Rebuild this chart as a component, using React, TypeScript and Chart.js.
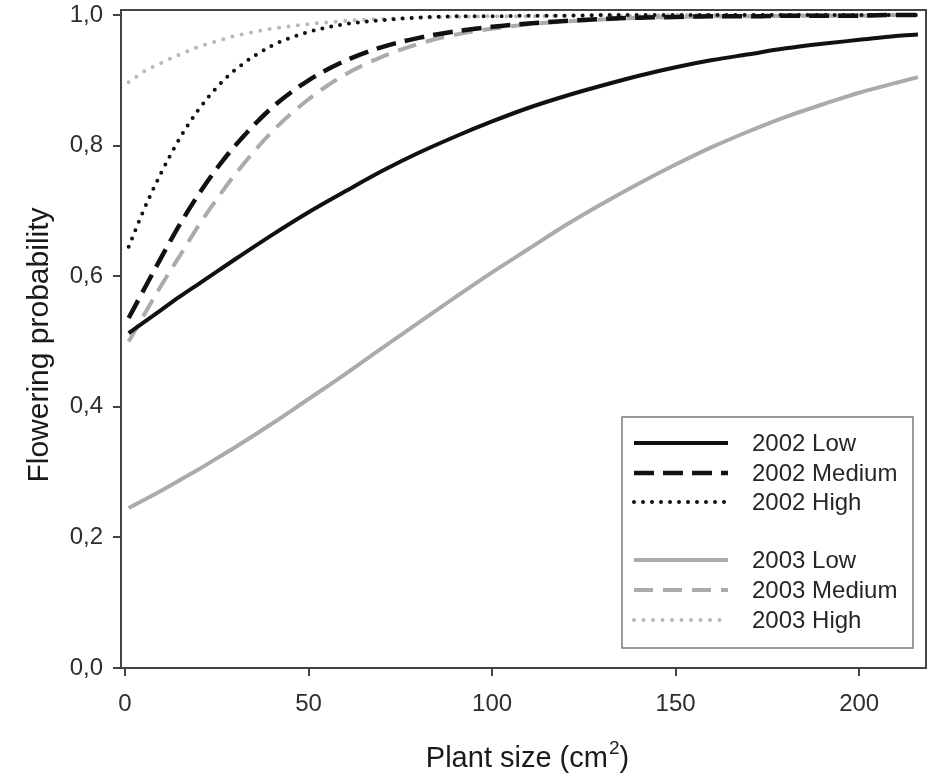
import React, { useEffect, useRef } from "react";
import { Chart, registerables } from "chart.js";

Chart.register(...registerables);

const X_VALUES = [1, 5, 10, 15, 20, 25, 30, 40, 50, 60, 70, 80, 90, 100, 110, 120, 130, 140, 150, 160, 170, 180, 190, 200, 210, 216];

const LOW_2002 = [0.513, 0.529, 0.549, 0.569, 0.588, 0.607, 0.626, 0.663, 0.698, 0.730, 0.761, 0.789, 0.814, 0.837, 0.858, 0.876, 0.892, 0.907, 0.920, 0.931, 0.940, 0.949, 0.956, 0.962, 0.968, 0.970];
const MEDIUM_2002 = [0.536, 0.578, 0.630, 0.680, 0.725, 0.765, 0.800, 0.858, 0.900, 0.930, 0.951, 0.965, 0.975, 0.982, 0.987, 0.991, 0.994, 0.996, 0.997, 0.998, 0.998, 0.999, 0.999, 0.999, 1.0, 1.0];
const HIGH_2002 = [0.645, 0.700, 0.760, 0.812, 0.855, 0.889, 0.916, 0.953, 0.974, 0.986, 0.992, 0.996, 0.998, 0.998, 0.999, 0.999, 1.0, 1.0, 1.0, 1.0, 1.0, 1.0, 1.0, 1.0, 1.0, 1.0];
const LOW_2003 = [0.245, 0.257, 0.272, 0.288, 0.304, 0.321, 0.338, 0.374, 0.412, 0.450, 0.490, 0.529, 0.568, 0.606, 0.642, 0.678, 0.711, 0.742, 0.771, 0.798, 0.822, 0.844, 0.863, 0.881, 0.896, 0.905];
const MEDIUM_2003 = [0.500, 0.539, 0.587, 0.632, 0.677, 0.718, 0.756, 0.821, 0.871, 0.909, 0.936, 0.956, 0.970, 0.979, 0.986, 0.990, 0.993, 0.996, 0.997, 0.998, 0.998, 0.999, 0.999, 0.999, 1.0, 1.0];
const HIGH_2003 = [0.897, 0.913, 0.927, 0.940, 0.951, 0.960, 0.968, 0.979, 0.986, 0.991, 0.994, 0.996, 0.997, 0.998, 0.998, 0.999, 0.999, 0.999, 1.0, 1.0, 1.0, 1.0, 1.0, 1.0, 1.0, 1.0];

const SERIES_LABELS = ["2002 Low", "2002 Medium", "2002 High", "2003 Low", "2003 Medium", "2003 High"];
const X_TICKS = [0, 50, 100, 150, 200];
const Y_TICKS = [0, 0.2, 0.4, 0.6, 0.8, 1.0];
const X_TITLE = "Plant size (cm";
const X_TITLE_SUP = "2";
const Y_TITLE = "Flowering probability";

const FONT = "'Liberation Sans', Arial, sans-serif";
const BLACK = "#111111";
const GRAY = "#ababab";
const GRAY_LIGHT = "#b8b8b8";

const toPoints = (ys: number[]) => X_VALUES.map((x, i) => ({ x, y: ys[i] }));

const overlayPlugin = {
  id: "overlay",
  afterDraw(chart: any) {
    const { ctx, chartArea } = chart;
    ctx.save();
    // frame
    ctx.strokeStyle = "#444444";
    ctx.lineWidth = 2;
    ctx.setLineDash([]);
    ctx.strokeRect(chartArea.left, chartArea.top, chartArea.right - chartArea.left, chartArea.bottom - chartArea.top);

    // legend
    const boxL = 622, boxT = 417, boxR = 913, boxB = 648;
    ctx.fillStyle = "#ffffff";
    ctx.fillRect(boxL, boxT, boxR - boxL, boxB - boxT);
    ctx.strokeStyle = "#7a7a7a";
    ctx.lineWidth = 1.5;
    ctx.strokeRect(boxL, boxT, boxR - boxL, boxB - boxT);
    const rows = [443, 473, 502, 560, 590, 620];
    chart.data.datasets.forEach((ds: any, i: number) => {
      const y = rows[i];
      ctx.beginPath();
      ctx.strokeStyle = ds.borderColor;
      ctx.lineWidth = ds.borderWidth;
      ctx.lineCap = ds.borderCapStyle || "butt";
      ctx.setLineDash(ds.borderDash || []);
      ctx.moveTo(634, y);
      ctx.lineTo(728, y);
      ctx.stroke();
      ctx.setLineDash([]);
      ctx.fillStyle = "#262626";
      ctx.font = `24px ${FONT}`;
      ctx.textAlign = "left";
      ctx.textBaseline = "middle";
      ctx.fillText(ds.label, 752, y + 1);
    });

    // x title with superscript
    ctx.fillStyle = "#1a1a1a";
    ctx.textBaseline = "alphabetic";
    const mainFont = `29px ${FONT}`;
    const supFont = `19px ${FONT}`;
    ctx.font = mainFont;
    const w1 = ctx.measureText(X_TITLE).width;
    const w3 = ctx.measureText(")").width;
    ctx.font = supFont;
    const w2 = ctx.measureText(X_TITLE_SUP).width;
    const total = w1 + w2 + w3;
    let x0 = 527 - total / 2;
    const base = 767;
    ctx.textAlign = "left";
    ctx.font = mainFont;
    ctx.fillText(X_TITLE, x0, base);
    ctx.font = supFont;
    ctx.fillText(X_TITLE_SUP, x0 + w1 + 1, base - 13);
    ctx.font = mainFont;
    ctx.fillText(")", x0 + w1 + w2 + 1, base);

    // y title
    ctx.translate(48, 345);
    ctx.rotate(-Math.PI / 2);
    ctx.font = `30px ${FONT}`;
    ctx.textAlign = "center";
    ctx.textBaseline = "alphabetic";
    ctx.fillText(Y_TITLE, 0, 0);
    ctx.restore();
  },
};

export default function App() {
  const canvasRef = useRef<HTMLCanvasElement | null>(null);

  useEffect(() => {
    const canvas = canvasRef.current;
    if (!canvas) return;
    const styles = [
      { color: BLACK, width: 4, dash: [], cap: "butt" },
      { color: BLACK, width: 4.5, dash: [20, 9], cap: "butt" },
      { color: BLACK, width: 4, dash: [0, 9], cap: "round" },
      { color: GRAY, width: 4, dash: [], cap: "butt" },
      { color: GRAY, width: 4, dash: [19, 10], cap: "butt" },
      { color: GRAY_LIGHT, width: 4, dash: [0, 9.5], cap: "round" },
    ];
    const series = [LOW_2002, MEDIUM_2002, HIGH_2002, LOW_2003, MEDIUM_2003, HIGH_2003];
    const chart = new Chart(canvas, {
      type: "line",
      data: {
        datasets: series.map((ys, i) => ({
          label: SERIES_LABELS[i],
          data: toPoints(ys),
          borderColor: styles[i].color,
          backgroundColor: styles[i].color,
          borderWidth: styles[i].width,
          borderDash: styles[i].dash,
          borderCapStyle: styles[i].cap,
          pointRadius: 0,
          cubicInterpolationMode: "monotone",
          fill: false,
        })),
      },
      options: {
        animation: false,
        responsive: false,
        maintainAspectRatio: false,
        layout: { padding: { left: 0, top: 10, right: 7, bottom: 0 } },
        plugins: { legend: { display: false }, tooltip: { enabled: false } },
        scales: {
          x: {
            type: "linear",
            min: -1.09,
            max: 218.2,
            afterBuildTicks: (scale: any) => {
              scale.ticks = X_TICKS.map((v) => ({ value: v }));
            },
            afterFit: (scale: any) => {
              scale.height = 108;
              scale.paddingLeft = 0;
              scale.paddingRight = 0;
            },
            ticks: {
              font: { family: FONT, size: 24 },
              color: "#2e2e2e",
              padding: 14,
              maxRotation: 0,
              callback: (v: any) => String(v),
            },
            grid: { display: true, drawOnChartArea: false, drawTicks: true, tickLength: 8, color: "#444444", lineWidth: 2 },
            border: { display: false },
          },
          y: {
            type: "linear",
            min: 0,
            max: 1.0077,
            afterBuildTicks: (scale: any) => {
              scale.ticks = Y_TICKS.map((v) => ({ value: v }));
            },
            afterFit: (scale: any) => {
              scale.width = 121;
              scale.paddingTop = 0;
              scale.paddingBottom = 0;
            },
            ticks: {
              font: { family: FONT, size: 24 },
              color: "#2e2e2e",
              padding: 10,
              callback: (v: any) => Number(v).toFixed(1).replace(".", ","),
            },
            grid: { display: true, drawOnChartArea: false, drawTicks: true, tickLength: 8, color: "#444444", lineWidth: 2 },
            border: { display: false },
          },
        },
      },
      plugins: [overlayPlugin],
    } as any);
    return () => chart.destroy();
  }, []);

  return (
    <div style={{ position: "fixed", left: 0, top: 0, width: 933, height: 776, background: "#ffffff" }}>
      <canvas ref={canvasRef} width={933} height={776} style={{ display: "block" }} />
    </div>
  );
}
